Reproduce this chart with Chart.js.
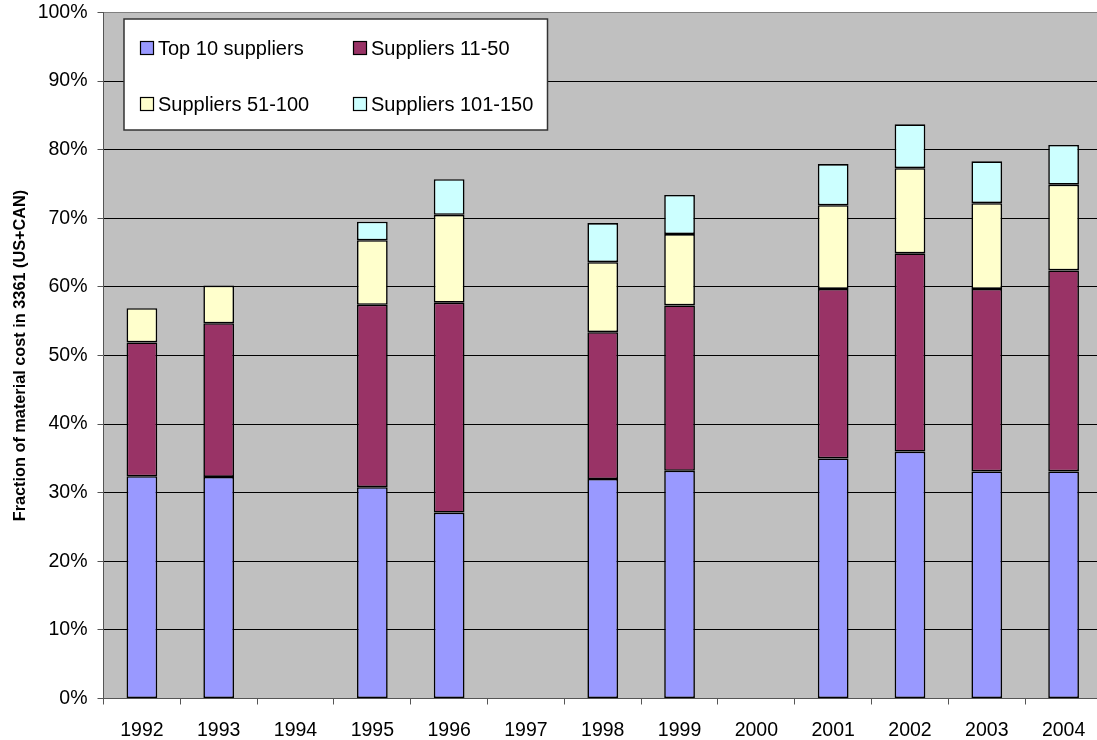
<!DOCTYPE html>
<html>
<head>
<meta charset="utf-8">
<script src="https://cdn.jsdelivr.net/npm/chart.js@4.4.1/dist/chart.umd.min.js"></script>
<style>
  html, body { margin: 0; padding: 0; background: #fff; overflow: hidden; }
  #wrap { width: 1097px; height: 740px; overflow: hidden; }
  canvas { display: block; }
</style>
</head>
<body>
<div id="wrap"><canvas id="chart" width="1102" height="740"></canvas></div>
<script>
// DATA (percent of material cost)
const years = ['1992', '1993', '1994', '1995', '1996', '1997', '1998', '1999', '2000', '2001', '2002', '2003', '2004'];
const top10 = [32.4, 32.3, null, 30.8, 27.1, null, 32.0, 33.2, null, 35.0, 36.0, 33.1, 33.1];
const suppliers11to50 = [19.5, 22.4, null, 26.6, 30.6, null, 21.4, 24.1, null, 24.7, 28.9, 26.6, 29.3];
const suppliers51to100 = [5.0, 5.5, null, 9.4, 12.8, null, 10.2, 10.4, null, 12.2, 12.4, 12.5, 12.5];
const suppliers101to150 = [null, null, null, 2.7, 5.2, null, 5.7, 5.7, null, 6.0, 6.4, 6.1, 5.8];
const yTicks = [0, 10, 20, 30, 40, 50, 60, 70, 80, 90, 100];

const FONT = '"Liberation Sans", Arial, sans-serif';

const makeSet = (label, data, color) => ({
  label: label,
  data: data,
  backgroundColor: color,
  borderColor: '#000',
  borderWidth: 1.6,
  borderSkipped: false,
  categoryPercentage: 1,
  barPercentage: 0.4
});

// gray plot background
const plotBackground = {
  id: 'plotBackground',
  beforeDraw(chart) {
    const {ctx, chartArea} = chart;
    ctx.save();
    ctx.fillStyle = '#C0C0C0';
    ctx.fillRect(chartArea.left, chartArea.top, chartArea.right - chartArea.left, chartArea.bottom - chartArea.top);
    ctx.restore();
  }
};

// boxed 2x2 legend inside the plot, read from the datasets
const boxLegend = {
  id: 'boxLegend',
  afterDraw(chart) {
    const ctx = chart.ctx;
    const sets = chart.data.datasets;
    ctx.save();
    ctx.fillStyle = '#fff';
    ctx.fillRect(124, 19, 423.5, 111);
    ctx.strokeStyle = '#333';
    ctx.lineWidth = 1.5;
    ctx.strokeRect(124, 19, 423.5, 111);
    ctx.font = '20px ' + FONT;
    ctx.textBaseline = 'middle';
    ctx.textAlign = 'left';
    const cols = [140, 353];
    const rows = [48, 104];
    sets.forEach((ds, i) => {
      const x = cols[i % 2];
      const y = rows[Math.floor(i / 2)];
      ctx.fillStyle = ds.backgroundColor;
      ctx.fillRect(x + 0.5, y - 6.5, 13, 13);
      ctx.strokeStyle = '#000';
      ctx.lineWidth = 1.2;
      ctx.strokeRect(x + 0.5, y - 6.5, 13, 13);
      ctx.fillStyle = '#000';
      ctx.fillText(ds.label, x + 18, y + 1);
    });
    ctx.restore();
  }
};

const ctx = document.getElementById('chart');

const myChart = new Chart(ctx, {
  type: 'bar',
  data: {
    labels: years,
    datasets: [
      makeSet('Top 10 suppliers', top10, '#9999FF'),
      makeSet('Suppliers 11-50', suppliers11to50, '#993366'),
      makeSet('Suppliers 51-100', suppliers51to100, '#FFFFCC'),
      makeSet('Suppliers 101-150', suppliers101to150, '#CCFFFF')
    ]
  },
  options: {
    responsive: false,
    animation: false,
    layout: { padding: { top: 12.5, left: 0, right: 0, bottom: 0 } },
    plugins: {
      legend: { display: false },
      tooltip: { enabled: false }
    },
    scales: {
      x: {
        stacked: true,
        grid: {
          offset: true,
          drawOnChartArea: false,
          drawTicks: true,
          tickLength: 6,
          color: '#555'
        },
        border: { display: true, color: '#555', width: 1 },
        ticks: {
          color: '#000',
          font: { family: FONT, size: 19.5 },
          padding: 14,
          maxRotation: 0,
          autoSkip: false
        },
        afterFit(scale) {
          scale.height = 740 - 698.5;
          scale.paddingLeft = 0;
          scale.paddingRight = 0;
        }
      },
      y: {
        stacked: true,
        min: 0,
        max: 100,
        afterBuildTicks(scale) {
          scale.ticks = yTicks.map(v => ({ value: v }));
        },
        grid: {
          color: (c) => (c.tick && c.tick.value === 100 ? '#808080' : '#000'),
          tickColor: '#555',
          tickLength: 6,
          lineWidth: 1
        },
        border: { display: true, color: '#555', width: 1 },
        ticks: {
          color: '#000',
          font: { family: FONT, size: 19.5 },
          padding: 10,
          callback: (v) => v + '%'
        },
        title: {
          display: true,
          text: 'Fraction of material cost in 3361 (US+CAN)',
          color: '#000',
          font: { family: FONT, size: 16.3, weight: 'bold' },
          padding: { top: 11, bottom: 0 }
        },
        afterFit(scale) {
          scale.width = 103.5;
          scale.paddingTop = 0;
          scale.paddingBottom = 0;
        }
      }
    }
  },
  plugins: [plotBackground, boxLegend]
});
</script>
</body>
</html>
